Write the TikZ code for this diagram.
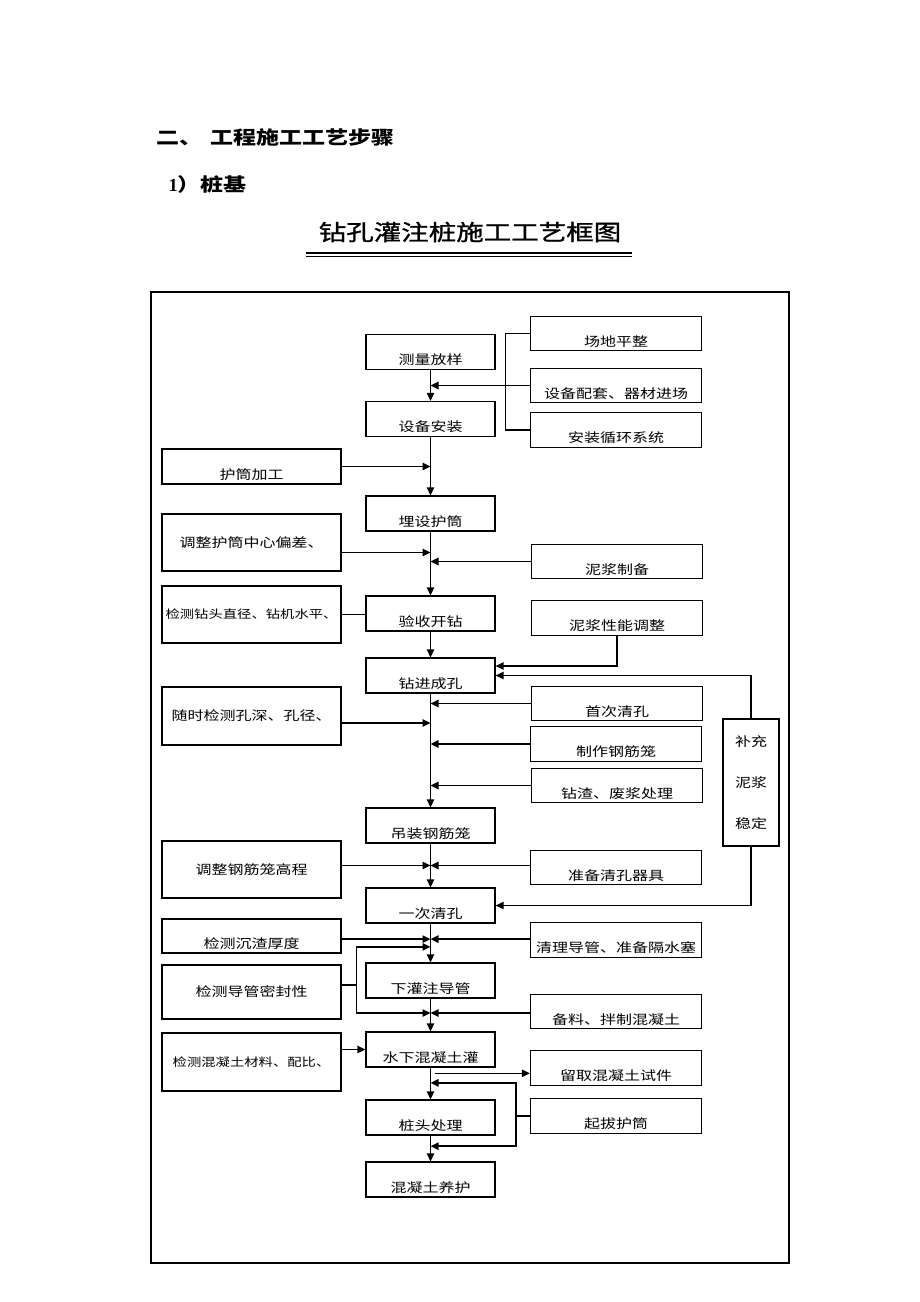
\documentclass[tikz,border=0pt]{standalone}
\usepackage{fontspec}
\setmainfont{Liberation Serif}
\newfontfamily\cjk[FakeStretch=1.25]{Noto Sans CJK SC}
\newfontfamily\cjktitle[FakeStretch=1.25, FakeBold=1.2]{Noto Sans CJK SC}
\usetikzlibrary{calc, positioning, arrows.meta}
\newcommand\boxfont{\cjk\fontsize{9.6}{12}\selectfont}
\tikzset{
	framebox/.style = {draw, line width=0.9pt, inner sep=0pt, font=\boxfont},
	lowtext/.style  = {text height=19pt, text depth=0pt},
	pilebox/.style  = {framebox, lowtext, minimum width=96.75pt, minimum height=26.25pt},
	aidbox/.style   = {framebox, lowtext, minimum width=128.25pt, minimum height=26pt},
	checkbox/.style = {framebox, align=center, minimum width=134.25pt, minimum height=#1},
	longtext/.style = {font=\cjk\fontsize{8.6}{12}\selectfont},
	flow/.style     = {line width=1.1pt, -{Triangle[length=6pt, width=5.5pt]}},
	link/.style     = {line width=0.8pt},
}

\begin{document}
\begin{tikzpicture}[x=0.75pt, y=-0.75pt]
	\useasboundingbox (0,0) rectangle (920,1302);
	% headings
	\node[anchor=west, font=\cjk\bfseries\fontsize{13.8}{16}\selectfont] (section) at (152,137) {二、\hspace{6pt}工程施工工艺步骤};
	\node[anchor=west, font=\cjk\bfseries\fontsize{13.8}{16}\selectfont] (subsection) at (164,185) {{\rmfamily\bfseries 1}）桩基};
	\node[font=\cjktitle\fontsize{16.5}{20}\selectfont] (title) at (470,232) {钻孔灌注桩施工工艺框图};
	\draw[line width=1.4pt] (306,253) -- (632,253);
	\draw[line width=0.7pt] (306,256.5) -- (632,256.5);
	\draw[line width=1.4pt] (151,292) rectangle (789,1263);

	% main column
	\node[pilebox] (survey)     at (430.5,352)    {测量放样};
	\node[pilebox] (install)    at (430.5,419)    {设备安装};
	\node[pilebox] (casing)     at (430.5,513.5)  {埋设护筒};
	\node[pilebox] (accept)     at (430.5,613.5)  {验收开钻};
	\node[pilebox] (drill)      at (430.5,675.5)  {钻进成孔};
	\node[pilebox] (cage)       at (430.5,825.5)  {吊装钢筋笼};
	\node[pilebox] (clean2)     at (430.5,905.5)  {一次清孔};
	\node[pilebox] (pourpipe)   at (430.5,980.5)  {下灌注导管};
	\node[pilebox] (underwater) at (430.5,1049.5) {水下混凝土灌};
	\node[pilebox] (pilehead)   at (430.5,1117.5) {桩头处理};
	\node[pilebox] (curing)     at (430.5,1179.5) {混凝土养护};

	% right column
	\node[aidbox] (site)     at (616,333.5)  {场地平整};
	\node[aidbox] (equip)    at (616,385.5)  {设备配套、器材进场};
	\node[aidbox] (circ)     at (616,430)    {安装循环系统};
	\node[aidbox] (mudprep)  at (617,561.5)  {泥浆制备};
	\node[aidbox] (mudadj)   at (617,618)    {泥浆性能调整};
	\node[aidbox] (clean1)   at (617,703.5)  {首次清孔};
	\node[aidbox] (makecage) at (616,744)    {制作钢筋笼};
	\node[aidbox] (slag)     at (617,785.5)  {钻渣、废浆处理};
	\node[aidbox] (tools)    at (616,867.5)  {准备清孔器具};
	\node[aidbox] (pipe)     at (616,940)    {清理导管、准备隔水塞};
	\node[aidbox] (mix)      at (616,1011.5) {备料、拌制混凝土};
	\node[aidbox] (sample)   at (616,1068)   {留取混凝土试件};
	\node[aidbox] (pull)     at (616,1116)   {起拔护筒};
	\node[framebox, align=center, minimum width=42pt, minimum height=95.25pt,
		font=\cjk\fontsize{9.6}{30.75}\selectfont] (mudbox) at (751,782.5) {补充\\泥浆\\稳定};

	% left column
	\node[checkbox=26.25pt, lowtext] (sleeve)   at (251.5,466.5) {护筒加工};
	\node[checkbox=42.75pt] (adjust)   at (251.5,542.5) {调整护筒中心偏差、};
	\node[checkbox=42.75pt, longtext] (bit) at (251.5,614.5) {检测钻头直径、钻机水平、};
	\node[checkbox=43.5pt]  (depth)    at (251.5,716)   {随时检测孔深、孔径、};
	\node[checkbox=42.75pt] (level)    at (251.5,869.5) {调整钢筋笼高程};
	\node[checkbox=25.5pt, lowtext]  (sediment) at (251.5,936) {检测沉渣厚度};
	\node[checkbox=40.5pt]  (seal)     at (251.5,992)   {检测导管密封性};
	\node[checkbox=43.5pt, longtext] (concrete) at (251.5,1062) {检测混凝土材料、配比、};

	% taps on the main line
	\coordinate (adjtap)    at ($(adjust.east)+(0,10)$);
	\coordinate (deptap)    at ($(depth.east)+(0,7)$);
	\coordinate (cagetap)   at ($(cage.south)!0.5!(clean2.north)$);
	\coordinate (sedtap)    at ($(clean2.south)!0.4!(pourpipe.north)$);
	\coordinate (sealtop)   at ($(clean2.south)!0.6!(pourpipe.north)$);
	\coordinate (mixtap)    at ($(pourpipe.south)!0.44!(underwater.north)$);
	\coordinate (sampletap) at ($(underwater.south)!0.18!(pilehead.north)$);
	\coordinate (pulltop)   at ($(underwater.south)!0.48!(pilehead.north)$);
	\coordinate (pullbot)   at ($(pilehead.south)!0.41!(curing.north)$);
	\coordinate (sealbar)   at ($(seal.east)+(15,-7)$);
	\coordinate (pullbar)   at ($(pull.west)+(-14,0)$);

	% main flow
	\draw[flow] (survey) -- (install);
	\draw[flow] (install) -- (casing);
	\draw[flow] (casing) -- (accept);
	\draw[flow] (accept) -- (drill);
	\draw[flow] (drill) -- (cage);
	\draw[flow] (cage) -- (clean2);
	\draw[flow] (clean2) -- (pourpipe);
	\draw[flow] (pourpipe) -- (underwater);
	\draw[flow] (underwater) -- (pilehead);
	\draw[flow] (pilehead) -- (curing);

	% side inputs
	\draw[link] (site.west) -- ++(-24,0) |- (circ.west);
	\draw[flow] (equip.west) -- (equip.west -| survey.south);
	\draw[flow] (sleeve.east) -- (sleeve.east -| install.south);
	\draw[flow] (adjtap) -- (adjtap -| casing.south);
	\draw[flow] (mudprep.west) -- (mudprep.west -| casing.south);
	\draw[link] (bit.east) -- (bit.east -| accept.west);
	\draw[flow] (mudadj.south) |- ($(drill.east)+(0,-9.5)$);
	\draw[flow] (mudbox.north) |- (drill.east);
	\draw[flow] (deptap) -- (deptap -| drill.south);
	\draw[flow] (clean1.west) -- (clean1.west -| drill.south);
	\draw[flow] (makecage.west) -- (makecage.west -| drill.south);
	\draw[flow] (slag.west) -- (slag.west -| drill.south);
	\draw[flow] (level.east |- cagetap) -- (cagetap);
	\draw[flow] (tools.west |- cagetap) -- (cagetap);
	\draw[flow] (mudbox.south) |- (clean2.east);
	\draw[flow] (sediment.east |- sedtap) -- (sedtap);
	\draw[flow] (pipe.west |- sedtap) -- (sedtap);
	\draw[link] (seal.east |- sealbar) -- (sealbar);
	\draw[flow] (sealbar) |- (sealtop);
	\draw[flow] (sealbar) |- (mixtap);
	\draw[flow] (mix.west |- mixtap) -- (mixtap);
	\draw[flow] (concrete.east |- underwater.west) -- (underwater.west);
	\draw[flow] ([xshift=3pt]sampletap) -- (sample.west |- sampletap);
	\draw[link] (pull.west) -- (pullbar);
	\draw[flow] (pullbar) |- (pulltop);
	\draw[flow] (pullbar) |- (pullbot);
\end{tikzpicture}
\end{document}
